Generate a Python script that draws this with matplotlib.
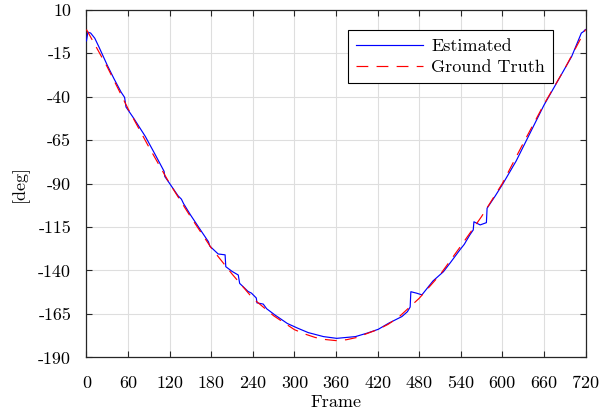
import matplotlib
matplotlib.use("Agg")
import matplotlib.pyplot as plt

# Ground truth (frame, deg)
gt_frames = [0, 30, 60, 90, 120, 150, 180, 210, 240, 270, 300, 315, 330, 345, 360,
             375, 390, 405, 420, 435, 450, 480, 510, 540, 570, 600, 630, 660, 690, 720]
gt_values = [-1.5, -23, -47, -69, -90, -109, -127, -142, -156, -166, -174, -176.5, -178.5,
             -179.7, -180.3, -179.8, -178.5, -176.2, -174, -171, -167, -156, -142.5, -126,
             -109, -90, -67, -44.5, -24, -1.5]

# Estimated (frame, deg)
est_frames = [0, 2, 6, 12, 18, 30, 40, 50, 55, 57, 68, 85, 100, 112, 113, 120, 132, 137,
              140, 150, 165, 176, 178, 190, 200, 201, 210, 219, 221, 226, 233, 238, 245,
              246, 255, 260, 272, 290, 305, 320, 342, 361, 388, 405, 421, 436, 455, 463,
              467, 468, 476, 484, 490, 500, 515, 525, 539, 545, 553, 558, 559, 568, 577,
              578, 590, 601, 620, 640, 660, 680, 700, 714, 716, 720]
est_values = [-8, -3, -3.5, -6.5, -11.5, -22, -30, -37.5, -40.5, -46, -52.4, -63, -74, -83, -86,
              -90, -97, -99, -101.5, -108, -117, -123.5, -126, -130.5, -131, -137.8, -140.5,
              -142.6, -147.4, -149.3, -152, -153, -155.8, -158.6, -159.3, -162, -165.6,
              -170.5, -173.2, -175.7, -178, -179, -178, -176, -173.8, -170.3, -166.5, -163.7,
              -161, -152.2, -153, -154, -151, -146, -140.7, -135.5, -128, -125, -119.6,
              -116.7, -112, -113.8, -112.5, -104.2, -97, -90, -77, -61, -45, -31, -17, -3.5,
              -3, -1.5]

x_ticks = list(range(0, 721, 60))
y_ticks = list(range(10, -191, -25))

plt.rcParams['font.family'] = ['cmr10', 'DejaVu Serif']
plt.rcParams['axes.unicode_minus'] = False
plt.rcParams['axes.formatter.use_mathtext'] = True
plt.rcParams['mathtext.fontset'] = 'cm'

FS = 13

fig = plt.figure(figsize=(6.03, 4.15), dpi=100)
ax = fig.add_axes([0.1434, 0.1386, 0.971 - 0.1434, 0.977 - 0.1386])

ax.plot(est_frames, est_values, color='#0000ff', lw=0.85, label='Estimated', zorder=3)
gl, = ax.plot(gt_frames, gt_values, color='#ff0000', lw=0.85, label='Ground Truth', zorder=4)
gl.set_dashes([10, 7])

ax.set_xlim(0, 720)
ax.set_ylim(-190, 10)
ax.set_xticks(x_ticks)
ax.set_yticks(y_ticks)
ax.set_xticklabels([str(v) for v in x_ticks])
ax.set_yticklabels([str(v) for v in y_ticks])
ax.tick_params(direction='in', length=4, width=0.8, top=True, right=True,
               labelsize=FS, color='#262626')
ax.tick_params(axis='y', pad=11)
ax.tick_params(axis='x', pad=13)
for s in ax.spines.values():
    s.set_color('#262626')
    s.set_linewidth(0.9)
ax.grid(True, color='#dedede', lw=0.8)
ax.set_axisbelow(True)

ax.set_xlabel('Frame', fontsize=FS, labelpad=3)
ax.set_ylabel('[deg]', fontsize=FS, labelpad=7)

leg = ax.legend(loc='upper right', bbox_to_anchor=(0.935, 0.941), fontsize=FS,
                fancybox=False, framealpha=1, edgecolor='black', handlelength=3.7,
                handletextpad=0.45, borderpad=0.45, labelspacing=0.3, borderaxespad=0)
leg.get_frame().set_linewidth(0.8)

fig.savefig('out.png', dpi=100)
